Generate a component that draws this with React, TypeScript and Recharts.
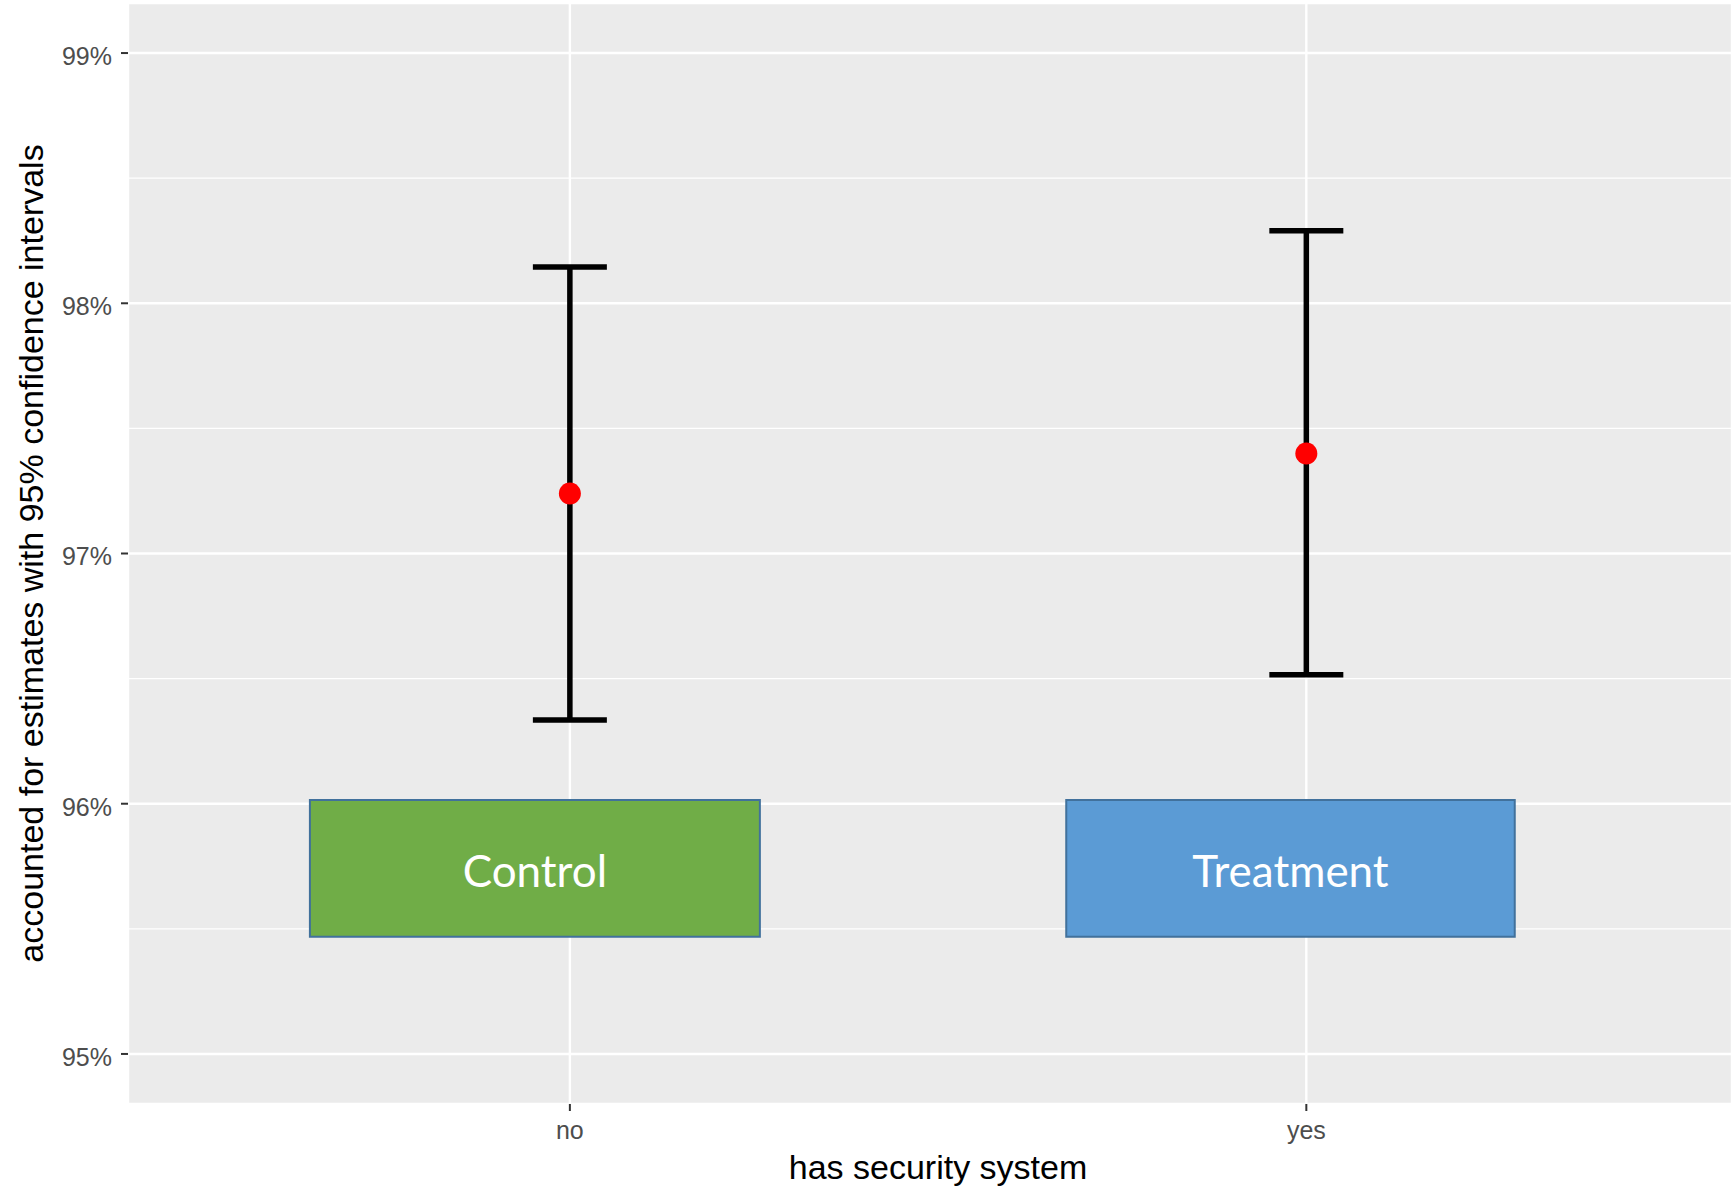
import React from 'react';
import {
  ComposedChart,
  Scatter,
  ErrorBar,
  XAxis,
  YAxis,
  CartesianGrid,
  ReferenceArea,
} from 'recharts';

// groups on the x axis
const categories = ['no', 'yes'];
// point estimates and 95% CI bounds (percent)
const estimates = [97.24, 97.4];
const lowerBounds = [96.335, 96.515];
const upperBounds = [98.145, 98.29];

const yTicks = [95, 96, 97, 98, 99];
const minorTicks = [95.5, 96.5, 97.5, 98.5];

// overlay boxes, in data units
const boxLabels = ['Control', 'Treatment'];
const boxFills = ['#70AD47', '#5B9BD5'];
const boxLeft = [0.647, 1.674];
const boxRight = [1.258, 2.283];
const boxBottom = 95.468;
const boxTop = 96.015;

const data = categories.map((c, i) => ({
  x: i + 1,
  y: estimates[i],
  err: [estimates[i] - lowerBounds[i], upperBounds[i] - estimates[i]],
}));

const axisFont = '"Liberation Sans", Arial, sans-serif';

const RedDot = (props: any) => (
  <circle cx={props.cx} cy={props.cy} r={11} fill="#FF0000" />
);

export default function App() {
  return (
    <div style={{ position: 'absolute', left: 0, top: 0, width: 1732, height: 1191, background: '#fff' }}>
      <ComposedChart
        width={1732}
        height={1191}
        data={data}
        margin={{ top: 3, right: 0, bottom: 0, left: 0 }}
      >
        {/* minor grid first so it sits under the major one */}
        <CartesianGrid
          fill="#EBEBEB"
          stroke="#FFFFFF"
          strokeWidth={1.2}
          vertical={false}
          horizontalValues={minorTicks}
        />
        <CartesianGrid stroke="#FFFFFF" strokeWidth={2.4} />
        <XAxis
          type="number"
          dataKey="x"
          domain={[0.4, 2.578]}
          ticks={[1, 2]}
          tickFormatter={(v) => categories[v - 1]}
          allowDataOverflow
          axisLine={false}
          tickLine={{ stroke: '#333333', strokeWidth: 2 }}
          tickSize={7}
          tickMargin={10}
          height={87}
          tick={{ fontSize: 25, fill: '#4D4D4D', fontFamily: axisFont }}
          label={{
            value: 'has security system',
            position: 'insideBottom',
            offset: 12,
            dx: 8,
            style: { fontSize: 34, fill: '#000000', fontFamily: axisFont },
          }}
        />
        <YAxis
          type="number"
          domain={[94.8, 99.2]}
          ticks={yTicks}
          allowDataOverflow
          tickFormatter={(v) => `${v}%`}
          axisLine={false}
          tickLine={{ stroke: '#333333', strokeWidth: 2 }}
          tickSize={7}
          tickMargin={9}
          width={128}
          tick={{ fontSize: 25, fill: '#4D4D4D', fontFamily: axisFont, dy: 3 }}
          label={{
            value: 'accounted for estimates with 95% confidence intervals',
            angle: -90,
            position: 'insideLeft',
            offset: 31,
            style: { fontSize: 34, fill: '#000000', fontFamily: axisFont, textAnchor: 'middle' },
          }}
        />
        {boxLabels.map((name, i) => (
          <ReferenceArea
            key={name}
            x1={boxLeft[i]}
            x2={boxRight[i]}
            y1={boxBottom}
            y2={boxTop}
            fill={boxFills[i]}
            fillOpacity={1}
            stroke="#41719C"
            strokeWidth={2}
            label={{
              value: name,
              position: 'center',
              dy: 3,
              style: { fontSize: 44, fill: '#FFFFFF', fontFamily: 'Lato, "Open Sans", sans-serif' },
            }}
          />
        ))}
        <Scatter dataKey="y" shape={RedDot} isAnimationActive={false}>
          <ErrorBar dataKey="err" direction="y" width={37} stroke="#000000" strokeWidth={5.5} />
        </Scatter>
      </ComposedChart>
    </div>
  );
}
